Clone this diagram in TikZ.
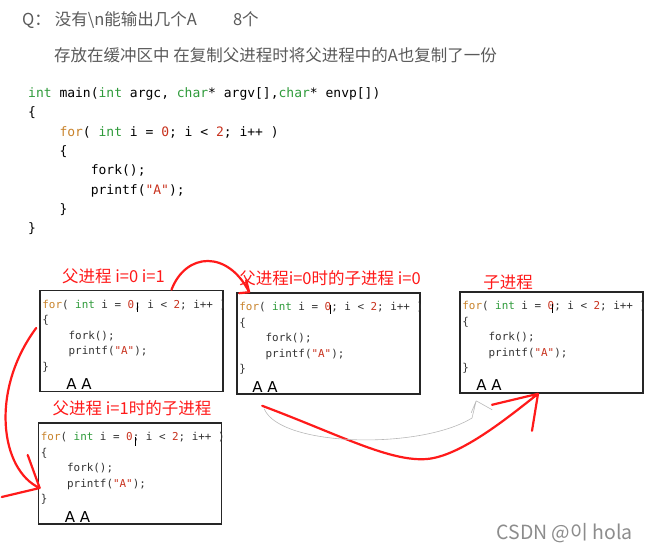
\documentclass[tikz,border=0pt]{standalone}
\usepackage{fontspec}
\newfontfamily\cjk{Noto Sans CJK SC}
\newfontfamily\krfont{Noto Sans CJK KR}
\newfontfamily\codefont{DejaVu Sans Mono}
\newfontfamily\handfont{DejaVu Sans}

\definecolor{penred}{HTML}{FF1A1A}
\definecolor{forcol}{HTML}{C8822A}
\definecolor{intcol}{HTML}{2E9A3A}
\definecolor{numcol}{HTML}{C8321E}
\definecolor{notegray}{HTML}{5A5A5A}

% code snippets
\newcommand\ind{\hspace*{2.408em}}
\newcommand\forline{\textcolor{forcol}{for}( \textcolor{intcol}{int} i = \textcolor{numcol}{0}; i < \textcolor{numcol}{2}; i++ )}
\newcommand\forkbody{\forline\\ \{\\ \ind fork();\\ \ind printf(\textcolor{numcol}{"A"});\\ \}}

\tikzset{
  procbox/.style={draw=black!85, line width=1.6pt, minimum width=183pt,
    minimum height=101pt, inner sep=0pt},
  boxcode/.style={font=\codefont\fontsize{10.9}{15.5}\selectfont, align=left,
    anchor=north west, inner sep=0pt, text=black!80},
  maincode/.style={font=\codefont\fontsize{13}{19.3}\selectfont, align=left,
    anchor=north west, inner sep=0pt, text=black},
  notetext/.style={font=\cjk\fontsize{16.5}{18}\selectfont, text=notegray, inner sep=0pt},
  redlabel/.style={font=\cjk\fontsize{16.5}{18}\selectfont, text=penred, inner sep=0pt},
  outA/.style={font=\handfont\fontsize{15}{16}\selectfont, anchor=base west, inner sep=0pt},
  redpen/.style={draw=penred, line width=2.2pt, line cap=round, line join=round},
  cursor/.style={line width=1.3pt},
}

\begin{document}
\begin{tikzpicture}[x=1pt,y=-1pt]
    \useasboundingbox (0,0) rectangle (647,551);
    % question and answer
    \node[notetext, anchor=west] (question) at (22,20)
        {Q：\hspace{4pt}没有\textbackslash n能输出几个A\hspace{36pt}8个};
    \node[notetext, anchor=west] (answer) at (54,55)
        {存放在缓冲区中 在复制父进程时将父进程中的A也复制了一份};
    % the program
    \node[maincode] (mainsrc) at (28,87.5)
        {\textcolor{intcol}{int} main(\textcolor{intcol}{int} argc, \textcolor{intcol}{char}* argv[],\textcolor{intcol}{char}* envp[])\\
         \{\\
         \ind\forline\\
         \ind\{\\
         \ind\ind fork();\\
         \ind\ind printf(\textcolor{numcol}{"A"});\\
         \ind\}\\
         \}};
    % the four processes
    \node[procbox] (parent) at (131.5,341) {};
    \node[procbox] (child0) at (328.5,343.5) {};
    \node[procbox] (grand) at (551.5,342.5) {};
    \node[procbox] (child1) at (130,473.5) {};
    \foreach \p in {parent,child0,grand,child1}
        \node[boxcode] (\p-src) at ([xshift=3pt,yshift=-10pt]\p.north west) {\forkbody};
    % text cursors
    \draw[cursor] ([xshift=98pt,yshift=-13pt]parent.north west) -- ++(0,9);
    \draw[cursor] ([xshift=94pt,yshift=-13pt]child0.north west) -- ++(0,9);
    \draw[cursor] ([xshift=93pt,yshift=-13pt]grand.north west) -- ++(0,9);
    \draw[cursor] ([xshift=98pt,yshift=-15pt]child1.north west) -- ++(0,9);
    % printed A's
    \node[outA] (parent-out) at ([xshift=27pt,yshift=3pt]parent.south west) {A A};
    \node[outA] (child0-out) at ([xshift=16pt,yshift=2pt]child0.south west) {A A};
    \node[outA] (grand-out) at ([xshift=17pt,yshift=3pt]grand.south west) {A A};
    \node[outA] (child1-out) at ([xshift=27pt,yshift=2pt]child1.south west) {A A};
    % labels
    \node[redlabel] (parent-lbl) at (113.5,276) {父进程 i=0 i=1};
    \node[redlabel] (child0-lbl) at (330,278) {父进程i=0时的子进程 i=0};
    \node[redlabel] (grand-lbl) at (508,282) {子进程};
    \node[redlabel] (child1-lbl) at (132,408) {父进程 i=1时的子进程};
    % fork arrows
    \coordinate (tipA) at ([xshift=13pt]child0.north west);
    \draw[redpen] ([xshift=40pt]parent.north) .. controls (186,252) and (228,250) .. (tipA)
        (tipA) -- ++(-10,1) (tipA) -- ++(-3,-12);
    \coordinate (tipB) at ([xshift=2pt,yshift=-14.5pt]child1.west);
    \draw[redpen] ([xshift=-3pt,yshift=13pt]parent.west) .. controls (-10,390) and (0,470) .. (tipB)
        (tipB) -- ++(-12,-33) (tipB) -- ++(-38,9);
    \coordinate (tipC) at ([xshift=-13.5pt]grand.south);
    \draw[redpen] ([xshift=26pt,yshift=-11pt]child0.south west)
        .. controls (340,435) and (390,462) .. (427,459)
        .. controls (460,456) and (505,420) .. (tipC)
        (tipC) -- ++(-46,11) (tipC) -- ++(-6,37);
    % faint pencil stroke
    \coordinate (tipD) at ([xshift=17pt,yshift=-7pt]grand.south west);
    \draw[gray!55, line width=0.6pt] ([xshift=28pt,yshift=-14pt]child0.south west)
        .. controls (280,447) and (420,450) .. (472,418) -- (tipD)
        (tipD) -- ++(-5,12) (tipD) -- ++(16,9);
    % watermark
    \node[font=\krfont\fontsize{19.5}{21}\selectfont, text=black!45, anchor=east, inner sep=0pt]
        (mark) at (633,533) {CSDN @이 hola};
\end{tikzpicture}
\end{document}
